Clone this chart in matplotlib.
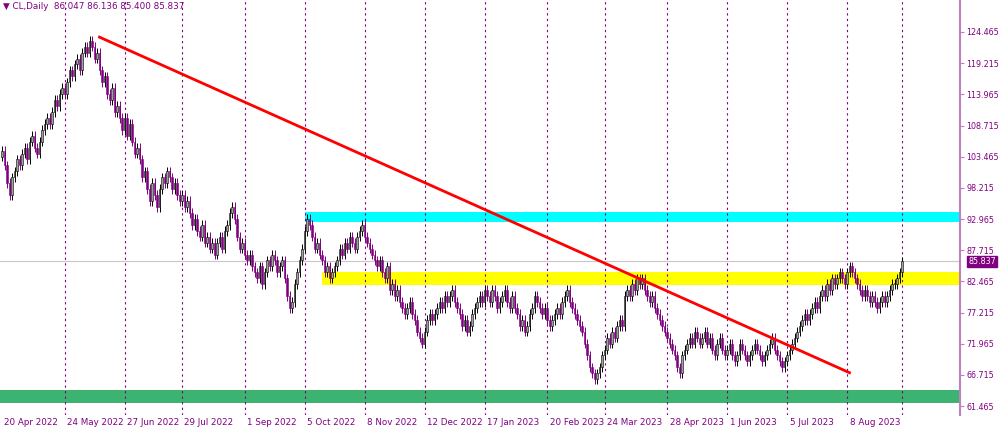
import matplotlib
matplotlib.use("Agg")
import matplotlib.pyplot as plt
from matplotlib.patches import Rectangle

# daily closes (open = previous close)
closes = [
    104.5, 102, 99, 97, 100,
    101, 103, 102, 104, 105, 103, 106, 107, 105, 104, 106, 108,
    109, 110, 109, 111, 113, 112, 114, 115,
    114, 116, 118, 117, 119, 120, 118, 121, 122, 121, 123,
    122, 120, 121, 118, 116,
    117, 114, 113, 115, 111, 112, 110, 108, 110, 107, 109, 106,
    104, 105, 103, 100, 101, 98, 96, 99, 97, 95, 98, 100,
    99, 101, 100, 98, 99, 97, 96, 97, 95, 96, 94, 92,
    93, 91, 90, 92, 89, 90, 88, 89, 87, 89, 90, 88, 91, 92, 94, 95,
    93, 90, 88, 89, 87, 86, 87, 85,
    84, 83, 85, 82, 84, 86, 85, 87, 86, 84, 85, 86,
    83, 80, 78, 79, 82, 84, 86, 88, 91, 93,
    92, 90, 88, 89, 87, 86, 84, 85, 83, 84,
    85, 86, 88, 87, 89, 88, 90, 89, 88, 90, 91, 92, 90, 89, 88, 87,
    86, 85, 86, 84, 83, 85, 81, 82, 80, 81, 79, 78,
    77, 78, 79, 77, 76, 74, 73, 72, 74, 76, 77, 76,
    77, 78, 79, 78, 80, 79, 80, 81, 79, 78, 77, 75, 76, 74, 75, 77,
    78, 79, 80, 79, 81, 80, 79, 81, 80, 78, 79, 80, 81, 79, 78, 80,
    78, 77, 75, 76, 74, 75, 77, 78, 80, 79, 78, 77, 78, 76, 75, 76,
    77, 78, 77, 79, 80, 81, 79, 78, 77, 76, 75, 74, 72, 70, 68, 67,
    66, 67, 68, 70, 71, 73, 72, 74, 73, 75, 76, 75,
    80, 81, 80, 82, 81, 83, 82, 83, 81, 80, 79, 80,
    78, 77, 76, 75, 74, 73, 72, 71, 70, 68, 67, 70,
    71, 72, 73, 72, 74, 73, 72, 73, 74, 72, 73, 71, 70, 72, 73, 71,
    70, 71, 72, 70, 69, 70, 72, 71, 70, 69, 70, 71, 72, 71, 70, 69,
    70, 71, 72, 73, 71, 70, 69, 68, 69, 70, 71, 72,
    73, 74, 75, 76, 77, 76, 77, 78, 79, 78, 80, 81, 80, 82, 81, 83,
    82, 83, 84, 83, 82, 84, 85, 84, 83, 82, 81, 80, 81, 80, 79, 80,
    79, 78, 79, 80, 79, 80, 81, 82, 82, 83, 84, 85.837,
]
first_open = 103.5
wick = 0.8

date_labels = ["20 Apr 2022", "24 May 2022", "27 Jun 2022", "29 Jul 2022", "1 Sep 2022",
               "5 Oct 2022", "8 Nov 2022", "12 Dec 2022", "17 Jan 2023", "20 Feb 2023",
               "24 Mar 2023", "28 Apr 2023", "1 Jun 2023", "5 Jul 2023", "8 Aug 2023"]
date_idx = [0, 25, 49, 72, 97, 121, 145, 169, 193, 218, 241, 266, 290, 314, 338]
grid_idx = date_idx[1:] + [360]

price_ticks = [124.465, 119.215, 113.965, 108.715, 103.465, 98.215, 92.965,
               87.715, 82.465, 77.215, 71.965, 66.715, 61.465]

trend = [(39, 123.6), (339, 67.1)]
cyan_zone = (121, 92.5, 94.2)
yellow_zone = (128, 81.9, 84.1)
green_zone = (-1, 62.0, 64.2)
last_price = 85.837

PURPLE = "#800080"
AXCOL = "#c080c0"

fig = plt.figure(figsize=(10, 4.32), dpi=100)
ax = fig.add_axes([0.0, 17 / 432, 0.96, 415 / 432])
ax.set_xlim(-0.8, 383.2)
ax.set_ylim(59.98, 129.85)

for (x0, lo, hi), col in [(cyan_zone, "#00ffff"), (yellow_zone, "#ffff00"), (green_zone, "#3cb371")]:
    ax.add_patch(Rectangle((x0, lo), 400, hi - lo, color=col, lw=0, zorder=1))

for gx in grid_idx:
    ax.axvline(gx, color=PURPLE, ls=(0, (2, 3)), lw=0.8, zorder=2)
ax.axhline(last_price, color="#c8c8c8", lw=0.8, zorder=2)

prev = first_open
for i, c in enumerate(closes):
    o = prev
    lo, hi = min(o, c), max(o, c)
    up = c >= o
    ax.vlines(i, lo - wick, hi + wick, color="black" if up else PURPLE, lw=0.7, zorder=3)
    ax.add_patch(Rectangle((i - 0.35, lo), 0.7, max(hi - lo, 0.15),
                           facecolor="#a0a0a0" if up else PURPLE,
                           edgecolor="black" if up else PURPLE, lw=0.4, zorder=4))
    prev = c

ax.plot([trend[0][0], trend[1][0]], [trend[0][1], trend[1][1]], color="#ff0000", lw=2, zorder=5)

for s in ["top", "left", "bottom"]:
    ax.spines[s].set_visible(False)
ax.spines["right"].set_color(AXCOL)
ax.spines["right"].set_linewidth(1.5)
ax.yaxis.tick_right()
ax.set_yticks(price_ticks)
ax.set_yticklabels([f"{p:.3f}" for p in price_ticks])
ax.tick_params(axis="y", colors=AXCOL, labelcolor=PURPLE, labelsize=5.8, length=3, pad=1.5)
ax.set_xticks([])

for lab, xi in zip(date_labels, date_idx):
    ax.text(xi + 1, 59.4, lab, ha="left", va="top", fontsize=6.3, color=PURPLE, clip_on=False)

ax.text(386.5, last_price, f"{last_price:.3f}", ha="left", va="center", fontsize=5.8,
        color="white", clip_on=False,
        bbox=dict(boxstyle="square,pad=0.12", fc=PURPLE, ec=PURPLE))

ax.text(0.003, 0.995, "\u25bc CL,Daily  86.047 86.136 85.400 85.837", transform=ax.transAxes,
        ha="left", va="top", fontsize=6.3, color=PURPLE)

fig.savefig("out.png")
